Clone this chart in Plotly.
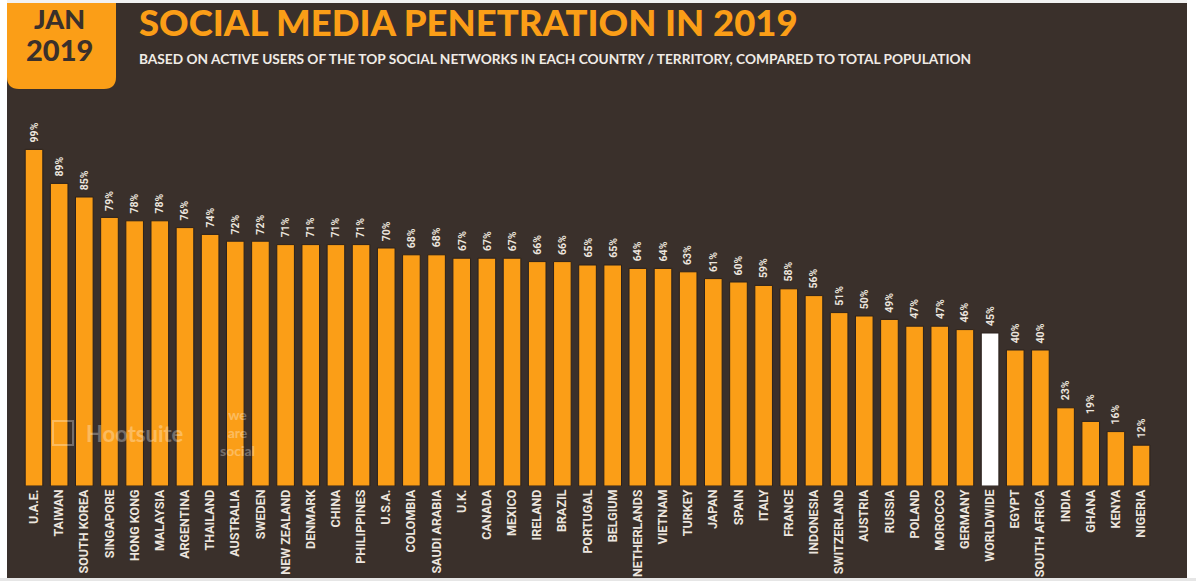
import plotly.graph_objects as go

# Social media penetration by country, January 2019
countries = [
    "U.A.E.", "TAIWAN", "SOUTH KOREA", "SINGAPORE", "HONG KONG", "MALAYSIA",
    "ARGENTINA", "THAILAND", "AUSTRALIA", "SWEDEN", "NEW ZEALAND", "DENMARK",
    "CHINA", "PHILIPPINES", "U.S.A.", "COLOMBIA", "SAUDI ARABIA", "U.K.",
    "CANADA", "MEXICO", "IRELAND", "BRAZIL", "PORTUGAL", "BELGIUM",
    "NETHERLANDS", "VIETNAM", "TURKEY", "JAPAN", "SPAIN", "ITALY", "FRANCE",
    "INDONESIA", "SWITZERLAND", "AUSTRIA", "RUSSIA", "POLAND", "MOROCCO",
    "GERMANY", "WORLDWIDE", "EGYPT", "SOUTH AFRICA", "INDIA", "GHANA",
    "KENYA", "NIGERIA",
]
penetration = [
    99, 89, 85, 79, 78, 78, 76, 74, 72, 72, 71, 71, 71, 71, 70, 68, 68, 67,
    67, 67, 66, 66, 65, 65, 64, 64, 63, 61, 60, 59, 58, 56, 51, 50, 49, 47,
    47, 46, 45, 40, 40, 23, 19, 16, 12,
]
highlight = "WORLDWIDE"

BG = "#3a302b"
ORANGE = "#fb9e17"
LABEL = "#ece5de"

W, H = 1196, 581
x_idx = list(range(len(countries)))
bar_colors = ["#ffffff" if c == highlight else ORANGE for c in countries]

fig = go.Figure()
fig.add_trace(go.Bar(
    x=x_idx,
    y=penetration,
    marker=dict(color=bar_colors, line=dict(color="#2a211c", width=1)),
    width=0.7,
    hoverinfo="skip",
))

# value labels above each bar
for i, v in zip(x_idx, penetration):
    fig.add_annotation(
        x=i, y=v, text=f"{v}%", textangle=-90, showarrow=False,
        xanchor="center", yanchor="bottom", yshift=5,
        font=dict(family="Roboto, sans-serif", size=10.5,
                  color=LABEL, weight="bold"),
    )

# plot area geometry in pixels
m_l, m_r, m_t, m_b = 0, 0, 0, 95
ph = H - m_t - m_b


def px_to_paper(px, py):
    return px / W, (H - m_b - py) / ph


def badge_path(x0, x1, y0, y1, r):
    a = px_to_paper(x0, y0)
    b = px_to_paper(x1, y0)
    c1 = px_to_paper(x1, y1 - r)
    c2 = px_to_paper(x1, y1)
    c3 = px_to_paper(x1 - r, y1)
    d1 = px_to_paper(x0 + r, y1)
    d2 = px_to_paper(x0, y1)
    d3 = px_to_paper(x0, y1 - r)
    f = lambda p: f"{p[0]:.5f},{p[1]:.5f}"
    return (f"M {f(a)} L {f(b)} L {f(c1)} Q {f(c2)} {f(c3)} "
            f"L {f(d1)} Q {f(d2)} {f(d3)} Z")


shapes = [
    # white frame around the dark panel
    dict(type="rect", xref="paper", yref="paper", x0=-0.01, x1=7 / W,
         y0=-0.3, y1=1.3, fillcolor="#ffffff", line_width=0, layer="above"),
    dict(type="rect", xref="paper", yref="paper", x0=1187 / W, x1=1.01,
         y0=-0.3, y1=1.3, fillcolor="#ffffff", line_width=0, layer="above"),
    # JAN 2019 badge with rounded bottom corners
    dict(type="path", xref="paper", yref="paper",
         path=badge_path(7, 116, -2, 89, 12), fillcolor=ORANGE,
         line_width=0, layer="above"),
]
# bottom and top light edges
_, by0 = px_to_paper(0, 578)
shapes.append(dict(type="rect", xref="paper", yref="paper", x0=-0.01,
                   x1=1.01, y0=-0.3, y1=by0, fillcolor="#e6e6e6",
                   line_width=0, layer="above"))
_, ty0 = px_to_paper(0, 3)
shapes.append(dict(type="rect", xref="paper", yref="paper", x0=7 / W,
                   x1=1187 / W, y0=ty0, y1=1.3, fillcolor="#f2f2f2",
                   line_width=0, layer="above"))


def text_at(px, py, text, size, color, family, weight="bold",
            xanchor="left", yanchor="middle", opacity=1.0):
    xp, yp = px_to_paper(px, py)
    fig.add_annotation(
        x=xp, y=yp, xref="paper", yref="paper", text=text, showarrow=False,
        xanchor=xanchor, yanchor=yanchor, opacity=opacity,
        font=dict(family=family, size=size, color=color, weight=weight),
    )


text_at(59, 18, "JAN", 27, BG, "Lato, sans-serif", weight=900,
        xanchor="center")
text_at(59, 50, "2019", 29, BG, "Lato, sans-serif", weight=900,
        xanchor="center")
text_at(137, 22, "SOCIAL MEDIA PENETRATION IN 2019", 36.5, ORANGE,
        "Lato, sans-serif", weight=900)
text_at(137, 58,
        "BASED ON ACTIVE USERS OF THE TOP SOCIAL NETWORKS IN EACH COUNTRY / "
        "TERRITORY, COMPARED TO TOTAL POPULATION",
        13.7, "#f0ebe6", "Lato, sans-serif")

# faint brand marks over the bars
text_at(84, 433, "Hootsuite", 22, "#ffffff", "Lato, sans-serif",
        opacity=0.3)
text_at(218, 432, "we<br>are<br>social", 14, "#ffffff", "Lato, sans-serif",
        opacity=0.3)
wx0, wy0 = px_to_paper(53, 421)
wx1, wy1 = px_to_paper(73, 445)
shapes.append(dict(type="rect", xref="paper", yref="paper", x0=wx0, x1=wx1,
                   y0=wy1, y1=wy0, line=dict(color="rgba(255,255,255,0.3)",
                                             width=2), layer="above"))

fig.update_layout(
    width=W, height=H,
    margin=dict(l=m_l, r=m_r, t=m_t, b=m_b, pad=0),
    paper_bgcolor=BG, plot_bgcolor=BG,
    showlegend=False,
    bargap=0.3,
    shapes=shapes,
    template="none",
)
fig.update_xaxes(
    range=[-34 / 25.16, -34 / 25.16 + W / 25.16],
    tickmode="array", tickvals=x_idx, ticktext=countries,
    tickangle=-90, ticks="", ticklen=0, showgrid=False, zeroline=False,
    showline=False, automargin=False,
    tickfont=dict(family="Roboto, sans-serif", size=12.5,
                  color=LABEL, weight="bold"),
)
fig.update_yaxes(
    range=[0, ph / 3.40], showgrid=False, zeroline=False, showline=False,
    showticklabels=False, automargin=False,
)

fig.write_html("out.html")
